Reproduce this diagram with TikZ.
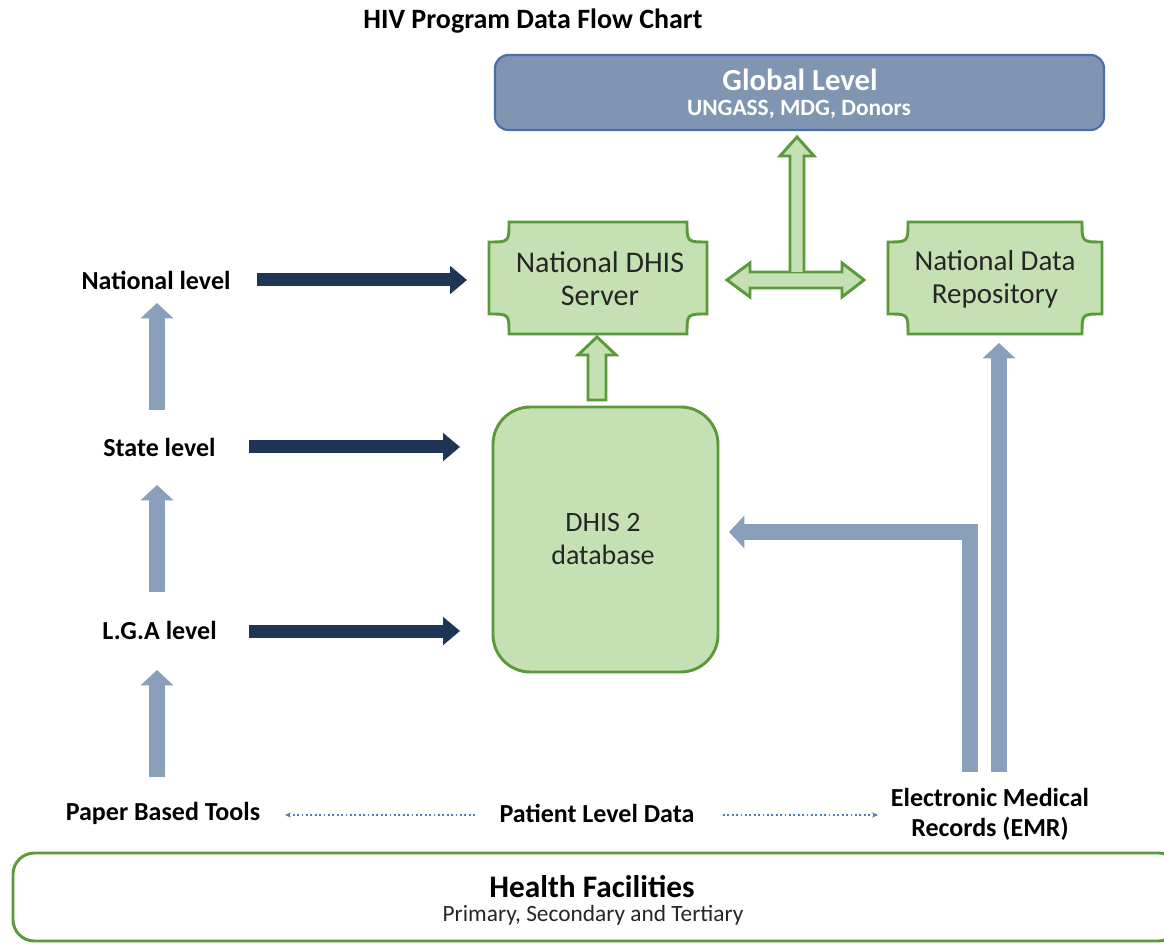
\documentclass[tikz,border=0pt]{standalone}
\usepackage{fontspec}
\setmainfont{Carlito}
\usetikzlibrary{arrows.meta}
\definecolor{navy}{HTML}{1F3556}
\definecolor{lblue}{HTML}{8A9FBC}
\definecolor{gfill}{HTML}{C5E0B3}
\definecolor{gdraw}{HTML}{5B9A3A}
\definecolor{glfill}{HTML}{7F95B2}
\definecolor{gldraw}{HTML}{4A6DAD}
\definecolor{dotc}{HTML}{4F81BD}
\definecolor{boxtext}{HTML}{262626}
\newcommand{\plaqueshape}[6]{%
  \draw[#6] (#1+#5,#2) -- (#3-#5,#2) .. controls (#3-#5,#2+#5) .. (#3,#2+#5)
    -- (#3,#4-#5) .. controls (#3-#5,#4-#5) .. (#3-#5,#4)
    -- (#1+#5,#4) .. controls (#1+#5,#4-#5) .. (#1,#4-#5)
    -- (#1,#2+#5) .. controls (#1+#5,#2+#5) .. (#1+#5,#2) -- cycle;}
\tikzset{
  lbl/.style={font=\bfseries\fontsize{19.5pt}{22.5pt}\selectfont, text=black, align=center, inner sep=0pt},
  boxtxt/.style={font=\fontsize{21.75pt}{24.5pt}\selectfont, text=boxtext, align=center, inner sep=0pt},
  gshape/.style={draw=gdraw, fill=gfill, line width=2.2pt, line join=miter},
  navyarrow/.style={draw=navy, line width=9.75pt, -{Triangle[length=12.75pt,width=20.5pt]}},
  bluearrow/.style={draw=lblue, line width=12.5pt, -{Triangle[length=11.5pt,width=24pt]}},
  dotarrow/.style={draw=dotc, dotted, line width=1.3pt, -{Stealth[length=4.5pt,width=4pt]}},
}
\begin{document}
\begin{tikzpicture}[x=0.75pt,y=-0.75pt]
\useasboundingbox (0,0) rectangle (1164,944);
\fill[white] (0,0) rectangle (1164,944);
\clip (0,0) rectangle (1164,944);

% title
\node[lbl, font=\bfseries\fontsize{21pt}{24pt}\selectfont] (title) at (533,21) {HIV Program Data Flow Chart};

% global level
\node[draw=gldraw, fill=glfill, line width=1.6pt, rounded corners=10pt,
      minimum width=456.75pt, minimum height=56.25pt, inner sep=0pt] (global) at (799.5,92.5) {};
\node[font=\bfseries\fontsize{23pt}{26pt}\selectfont, text=white, inner sep=0pt] (globalt) at (800,80) {Global Level};
\node[font=\bfseries\fontsize{17.5pt}{20pt}\selectfont, text=white, inner sep=0pt] (globals) at (799,109) {UNGASS, MDG, Donors};

% plaques
\plaqueshape{489}{222}{707}{334}{20}{gshape}
\plaqueshape{888}{222}{1102}{334}{20}{gshape}
\node[boxtxt, font=\fontsize{22.5pt}{24.5pt}\selectfont] (server) at (600,279) {National DHIS\\Server};
\node[boxtxt] (repo) at (995,279) {National Data\\Repository};

% DHIS 2 database
\node[gshape, rounded corners=28pt, minimum width=168.75pt, minimum height=198.75pt,
      inner sep=0pt] (db) at (605.5,539.5) {};
\node[boxtxt, font=\fontsize{21pt}{24.5pt}\selectfont] (dbt) at (603,539) {DHIS 2\\database};

% green block arrows
\draw[gshape] (597,337) -- (616,355) -- (606,355) -- (606,400) -- (588,400) -- (588,355) -- (578,355) -- cycle;
\draw[gshape] (727,280) -- (750,263) -- (750,272) -- (842,272) -- (842,263) -- (864,280)
  -- (842,297) -- (842,288) -- (750,288) -- (750,297) -- cycle;
\draw[gshape] (790,272) -- (790,156) -- (780,156) -- (797,137) -- (814,156) -- (804,156) -- (804,272);

% left labels
\node[lbl] (natl) at (156,280) {National level};
\node[lbl] (state) at (159.5,447) {State level};
\node[lbl] (lga) at (159.5,630) {L.G.A level};

% navy arrows
\coordinate (n1s) at (257,280); \coordinate (n1e) at (467,280);
\coordinate (n2s) at (249,447); \coordinate (n2e) at (460,447);
\coordinate (n3s) at (249,631); \coordinate (n3e) at (460,631);
\draw[navyarrow] (n1s) -- (n1e);
\draw[navyarrow] (n2s) -- (n2e);
\draw[navyarrow] (n3s) -- (n3e);

% light blue up arrows
\coordinate (u1s) at (157,410); \coordinate (u1e) at (157,303);
\coordinate (u2s) at (157,592); \coordinate (u2e) at (157,485);
\coordinate (u3s) at (157,777); \coordinate (u3e) at (157,670);
\draw[bluearrow] (u1s) -- (u1e);
\draw[bluearrow] (u2s) -- (u2e);
\draw[bluearrow] (u3s) -- (u3e);

% EMR arrows
\coordinate (e1s) at (970,772); \coordinate (e1c) at (970,532); \coordinate (e1e) at (729,532);
\coordinate (e2s) at (999,772); \coordinate (e2e) at (999,343);
\draw[bluearrow, line width=11.5pt, line join=miter] (e1s) -- (e1c) -- (e1e);
\draw[bluearrow, line width=11.5pt] (e2s) -- (e2e);

% bottom labels
\node[lbl] (paper) at (163,813) {Paper Based Tools};
\node[lbl] (pld) at (597,813) {Patient Level Data};
\node[lbl] (emr) at (990,814) {Electronic Medical\\Records (EMR)};
\coordinate (d1s) at (475,815); \coordinate (d1e) at (285,815);
\coordinate (d2s) at (723,815); \coordinate (d2e) at (878,815);
\draw[dotarrow] (d1s) -- (d1e);
\draw[dotarrow] (d2s) -- (d2e);

% health facilities
\draw[draw=gdraw, line width=2.2pt, fill=white, rounded corners=16pt] (13,853) rectangle (1180,941);
\node[font=\bfseries\fontsize{23.5pt}{26pt}\selectfont, text=black, inner sep=0pt] (hf) at (592,887) {Health Facilities};
\node[font=\fontsize{17.5pt}{20pt}\selectfont, text=boxtext, inner sep=0pt] (hfs) at (593,915) {Primary, Secondary and Tertiary};
\end{tikzpicture}
\end{document}
